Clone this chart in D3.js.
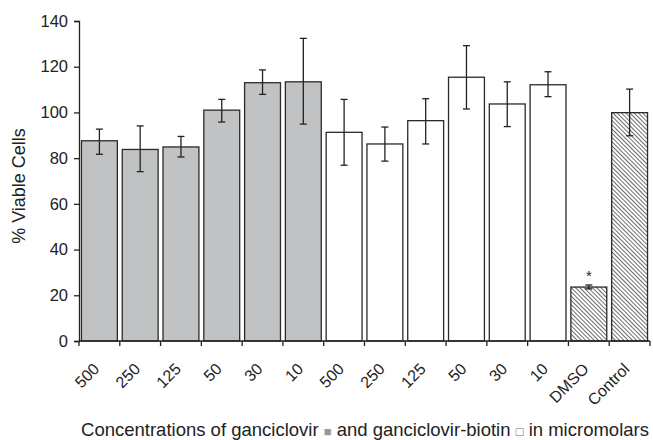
<!DOCTYPE html>
<html>
<head>
<meta charset="utf-8">
<script src="https://cdn.jsdelivr.net/npm/d3@7"></script>
<style>
  body { margin: 0; background: #fff; }
  text { font-family: "Liberation Sans", Arial, sans-serif; fill: #222; }
</style>
</head>
<body>
<svg width="653" height="440"></svg>
<script>
// labels shown under each bar
var categories = ["500", "250", "125", "50", "30", "10", "500", "250", "125", "50", "30", "10", "DMSO", "Control"];
// group of each bar: g = ganciclovir, b = ganciclovir-biotin, h = hatched controls
var groups = ["g", "g", "g", "g", "g", "g", "b", "b", "b", "b", "b", "b", "h", "h"];
var values = [87.6, 83.8, 84.9, 101, 113, 113.4, 91.3, 86.2, 96.4, 115.4, 103.7, 112.1, 23.6, 99.9];
var errHigh = [92.7, 94.1, 89.5, 105.7, 118.6, 132.4, 105.7, 93.6, 106, 129.2, 113.4, 117.8, 24.5, 110.2];
var errLow = [81.7, 74.1, 80.5, 95.8, 107.9, 94.9, 76.9, 78.7, 86.2, 101.5, 93.8, 106.9, 22.8, 89.8];
var yTicks = [0, 20, 40, 60, 80, 100, 120, 140];

var svg = d3.select("svg"),
    margin = {top: 21, right: 3, bottom: 99, left: 79},
    width = +svg.attr("width") - margin.left - margin.right,
    height = +svg.attr("height") - margin.top - margin.bottom;

var defs = svg.append("defs");
var pat = defs.append("pattern")
    .attr("id", "hatch")
    .attr("patternUnits", "userSpaceOnUse")
    .attr("width", 3)
    .attr("height", 3)
    .attr("patternTransform", "rotate(-45)");
pat.append("rect").attr("width", 3).attr("height", 3).attr("fill", "#fff");
pat.append("line")
    .attr("x1", 0).attr("y1", 0).attr("x2", 0).attr("y2", 3)
    .attr("stroke", "#3a3a3a").attr("stroke-width", 1.5);

var x = d3.scaleBand().domain(d3.range(categories.length)).range([0, width]).paddingInner(0.12).paddingOuter(0.06);
var y = d3.scaleLinear().domain([0, 140]).range([height, 0]);

var g = svg.append("g").attr("transform", "translate(" + margin.left + "," + margin.top + ")");

var fills = {g: "#c1c2c4", b: "#fff", h: "url(#hatch)"};

// bars
g.selectAll(".bar")
  .data(values)
  .enter().append("rect")
    .attr("class", "bar")
    .attr("x", function(d, i) { return x(i); })
    .attr("y", function(d) { return y(d); })
    .attr("width", x.bandwidth())
    .attr("height", function(d) { return y(0) - y(d); })
    .attr("fill", function(d, i) { return fills[groups[i]]; })
    .attr("stroke", "#2a2a2a")
    .attr("stroke-width", 1.3);

// error bars
var eb = g.selectAll(".err").data(values).enter().append("g").attr("class", "err")
    .attr("stroke", "#222").attr("stroke-width", 1.3);
eb.append("line")
    .attr("x1", function(d, i) { return x(i) + x.bandwidth() / 2; })
    .attr("x2", function(d, i) { return x(i) + x.bandwidth() / 2; })
    .attr("y1", function(d, i) { return y(errHigh[i]); })
    .attr("y2", function(d, i) { return y(errLow[i]); });
eb.append("line")
    .attr("x1", function(d, i) { return x(i) + x.bandwidth() / 2 - 3.5; })
    .attr("x2", function(d, i) { return x(i) + x.bandwidth() / 2 + 3.5; })
    .attr("y1", function(d, i) { return y(errHigh[i]); })
    .attr("y2", function(d, i) { return y(errHigh[i]); });
eb.append("line")
    .attr("x1", function(d, i) { return x(i) + x.bandwidth() / 2 - 3.5; })
    .attr("x2", function(d, i) { return x(i) + x.bandwidth() / 2 + 3.5; })
    .attr("y1", function(d, i) { return y(errLow[i]); })
    .attr("y2", function(d, i) { return y(errLow[i]); });

// significance star over DMSO
g.append("text")
    .attr("x", x(12) + x.bandwidth() / 2)
    .attr("y", y(errHigh[12]) - 4)
    .attr("text-anchor", "middle")
    .style("font-size", "15px")
    .text("*");

// y axis
var yAxis = g.append("g")
    .call(d3.axisLeft(y).tickValues(yTicks).tickSize(5).tickPadding(6));
yAxis.selectAll("text").style("font-size", "16.5px");
yAxis.select(".domain").attr("stroke", "#222").attr("stroke-width", 1.3);
yAxis.selectAll(".tick line").attr("stroke", "#222").attr("stroke-width", 1.3);

// x axis: ticks between bars
var xb = g.append("g").attr("transform", "translate(0," + height + ")");
xb.append("line").attr("x1", 0).attr("x2", width).attr("stroke", "#222").attr("stroke-width", 1.3);
var step = x.step();
var bounds = d3.range(categories.length + 1).map(function(i) {
  return i === categories.length ? width : x(i) - (step - x.bandwidth()) / 2;
});
xb.selectAll(".xt").data(bounds).enter().append("line")
    .attr("x1", function(d) { return d; }).attr("x2", function(d) { return d; })
    .attr("y1", 0).attr("y2", 5)
    .attr("stroke", "#222").attr("stroke-width", 1.3);
xb.selectAll(".xl").data(categories).enter().append("text")
    .attr("transform", function(d, i) {
      return "translate(" + (x(i) + x.bandwidth() / 2 + 1) + ",29) rotate(-45)";
    })
    .attr("text-anchor", "end")
    .style("font-size", "16px")
    .text(function(d) { return d; });

// axis titles
svg.append("text")
    .attr("transform", "translate(25,186) rotate(-90)")
    .attr("text-anchor", "middle")
    .style("font-size", "18px")
    .text("% Viable Cells");

var title = svg.append("text")
    .attr("x", 365)
    .attr("y", 436)
    .attr("text-anchor", "middle")
    .style("font-size", "18.5px");
title.append("tspan").text("Concentrations of ganciclovir ");
title.append("tspan").style("fill", "#999").style("font-size", "13px").text("\u25A0");
title.append("tspan").text(" and ganciclovir-biotin ");
title.append("tspan").style("fill", "#777").style("font-size", "13px").text("\u25A1");
title.append("tspan").text(" in micromolars");
</script>
</body>
</html>
